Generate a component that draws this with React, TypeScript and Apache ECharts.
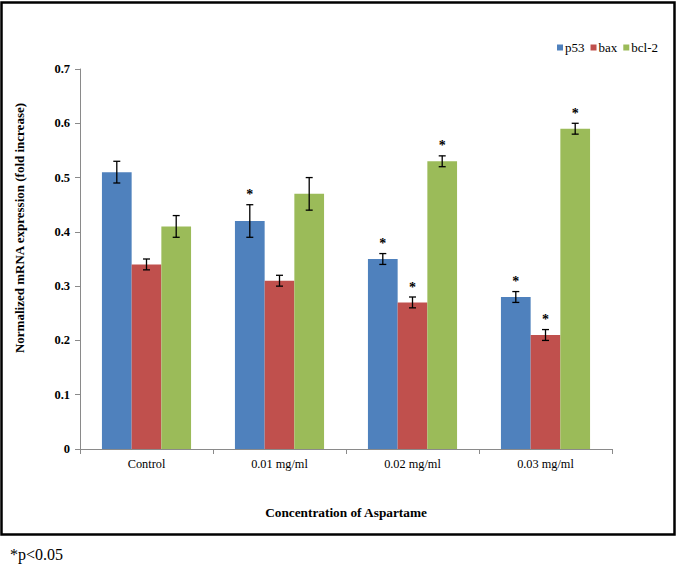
import React, { useEffect, useRef } from "react";
import * as echarts from "echarts";

const categories = ["Control", "0.01 mg/ml", "0.02 mg/ml", "0.03 mg/ml"];
const seriesNames = ["p53", "bax", "bcl-2"];
const p53 = [0.51, 0.42, 0.35, 0.28];
const bax = [0.34, 0.31, 0.27, 0.21];
const bcl2 = [0.41, 0.47, 0.53, 0.59];
const p53Err = [0.02, 0.03, 0.01, 0.01];
const baxErr = [0.01, 0.01, 0.01, 0.01];
const bcl2Err = [0.02, 0.03, 0.01, 0.01];
const p53Star = [0, 1, 1, 1];
const baxStar = [0, 0, 1, 1];
const bcl2Star = [0, 0, 1, 1];
const colors = ["#4F81BD", "#C0504D", "#9BBB59"];

const SERIF = "'Liberation Serif', 'Times New Roman', serif";
const CAT_GAP = 0.33;

export default function App() {
  const ref = useRef<HTMLDivElement>(null);
  useEffect(() => {
    if (!ref.current) return;
    const chart = echarts.init(ref.current, undefined, { renderer: "svg" });
    const vals = [p53, bax, bcl2];
    const errs = [p53Err, baxErr, bcl2Err];
    const stars = [p53Star, baxStar, bcl2Star];

    const barSeries = seriesNames.map((n, i) => ({
      name: n,
      type: "bar",
      data: vals[i],
      barGap: "0%",
      barCategoryGap: "33%",
      itemStyle: { color: colors[i] },
    }));

    const errSeries = seriesNames.map((n, si) => ({
      type: "custom",
      name: n + "-err",
      silent: true,
      z: 10,
      itemStyle: { color: "#000" },
      encode: { x: 0, y: 1 },
      data: categories.map((_, ci) => [ci, vals[si][ci], errs[si][ci], stars[si][ci]]),
      renderItem: (params: any, api: any) => {
        const ci = api.value(0);
        const v = api.value(1);
        const e = api.value(2);
        const star = api.value(3);
        const c = api.coord([ci, v]);
        const band = api.size([1, 0])[0];
        const bw = (band * (1 - CAT_GAP)) / 3;
        const x = c[0] + (si - 1) * bw;
        const top = api.coord([ci, v + e])[1];
        const bot = api.coord([ci, v - e])[1];
        const cap = 3.5;
        const st = { stroke: "#000", lineWidth: 1.3 };
        const children: any[] = [
          { type: "line", shape: { x1: x, y1: top, x2: x, y2: bot }, style: st },
          { type: "line", shape: { x1: x - cap, y1: top, x2: x + cap, y2: top }, style: st },
          { type: "line", shape: { x1: x - cap, y1: bot, x2: x + cap, y2: bot }, style: st },
        ];
        if (star) {
          children.push({
            type: "text",
            style: {
              text: "*",
              x: x,
              y: top - 3,
              align: "center",
              verticalAlign: "bottom",
              font: `bold 14px ${SERIF}`,
              fill: "#000",
            },
          });
        }
        return { type: "group", children };
      },
    }));

    chart.setOption({
      animation: false,
      backgroundColor: "#fff",
      legend: {
        data: seriesNames,
        right: 14,
        top: 36,
        icon: "rect",
        itemWidth: 6,
        itemHeight: 6,
        itemGap: 6,
        textStyle: { fontFamily: SERIF, fontSize: 13, color: "#000", padding: [0, 0, 0, -3] },
      },
      grid: { left: 80, right: 65, top: 69, bottom: 123, containLabel: false },
      xAxis: {
        type: "category",
        data: categories,
        name: "Concentration of Aspartame",
        nameLocation: "middle",
        nameGap: 57,
        nameTextStyle: { fontFamily: SERIF, fontSize: 13.3, fontWeight: "bold", color: "#000" },
        axisLine: { lineStyle: { color: "#8a8a8a", width: 1 } },
        axisTick: { show: true, alignWithLabel: false, length: 5, lineStyle: { color: "#8a8a8a" } },
        axisLabel: { fontFamily: SERIF, fontSize: 12.3, color: "#000", margin: 9 },
      },
      yAxis: {
        type: "value",
        min: 0,
        max: 0.7,
        interval: 0.1,
        axisLine: { show: true, lineStyle: { color: "#8a8a8a", width: 1 } },
        axisTick: { show: true, length: 5, lineStyle: { color: "#8a8a8a" } },
        splitLine: { show: false },
        axisLabel: {
          fontFamily: SERIF,
          fontSize: 12.5,
          fontWeight: "bold",
          color: "#000",
          margin: 10,
          formatter: (v: number) => (v === 0 ? "0" : v.toFixed(1)),
        },
      },
      series: [...barSeries, ...errSeries],
      graphic: [
        {
          type: "rect",
          shape: { x: 1.5, y: 2.5, width: 673, height: 532 },
          style: { fill: "none", stroke: "#000", lineWidth: 2.5 },
          z: 100,
        },
        {
          type: "text",
          x: 19,
          y: 228,
          rotation: Math.PI / 2,
          style: {
            text: "Normalized mRNA expression (fold increase)",
            font: `bold 13px ${SERIF}`,
            fill: "#000",
            align: "center",
            verticalAlign: "middle",
          },
        },
        {
          type: "text",
          left: 10,
          top: 546,
          style: { text: "*p<0.05", font: `16px ${SERIF}`, fill: "#000" },
        },
      ],
    });
    return () => chart.dispose();
  }, []);
  return (
    <div
      ref={ref}
      style={{ position: "fixed", left: 0, top: 0, width: 677, height: 572 }}
    />
  );
}
